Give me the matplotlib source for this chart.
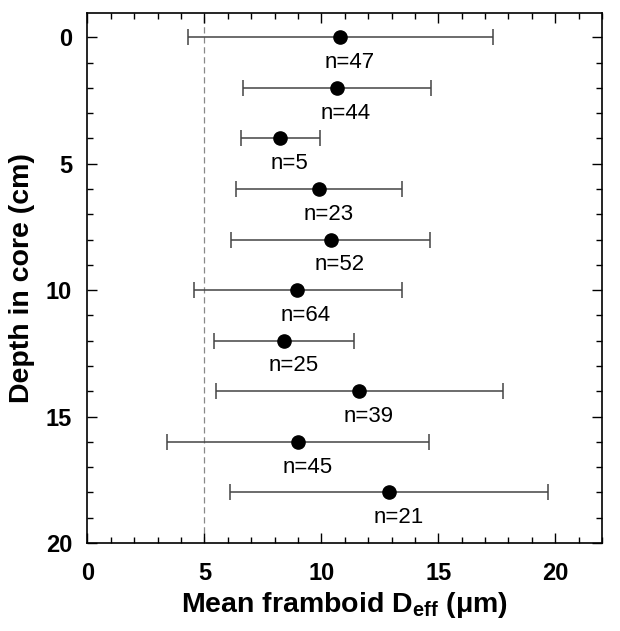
import numpy as np
import matplotlib
matplotlib.use("Agg")
import matplotlib.pyplot as plt
from matplotlib.ticker import MultipleLocator

plt.rcParams['font.family'] = ['Liberation Sans', 'DejaVu Sans']
plt.rcParams['mathtext.fontset'] = 'custom'
plt.rcParams['mathtext.rm'] = 'Liberation Sans'
plt.rcParams['mathtext.bf'] = 'Liberation Sans:bold'

# data
depth = [0, 2, 4, 6, 8, 10, 12, 14, 16, 18]
mean_d = [10.8, 10.65, 8.25, 9.9, 10.4, 8.95, 8.4, 11.6, 9.0, 12.9]
low = [4.3, 6.65, 6.55, 6.35, 6.15, 4.55, 5.4, 5.5, 3.4, 6.1]
high = [17.35, 14.7, 9.95, 13.45, 14.65, 13.45, 11.4, 17.75, 14.6, 19.7]
n_labels = ['n=47', 'n=44', 'n=5', 'n=23', 'n=52', 'n=64', 'n=25', 'n=39', 'n=45', 'n=21']

mean_d = np.array(mean_d)
xerr = [mean_d - np.array(low), np.array(high) - mean_d]

fig = plt.figure(figsize=(6.2, 6.31), dpi=100)
ax = fig.add_axes([0.141, 0.1395, 0.830, 0.8395])

# threshold line at 5 um
ax.axvline(5, color='#888888', lw=0.9, ls=(0, (5, 3)), zorder=1)

ax.errorbar(mean_d, depth, xerr=xerr, fmt='o', color='black', ms=9.5,
            ecolor='#444444', elinewidth=1.1, capsize=6, capthick=1.1, zorder=3)

for x, y, s in zip(mean_d, depth, n_labels):
    ax.text(x + 0.4, y + 1.0, s, ha='center', va='center', fontsize=16)

ax.set_xlim(0, 22)
ax.set_ylim(20, -0.95)
ax.xaxis.set_major_locator(MultipleLocator(5))
ax.xaxis.set_minor_locator(MultipleLocator(1))
ax.yaxis.set_major_locator(MultipleLocator(5))
ax.yaxis.set_minor_locator(MultipleLocator(1))
ax.tick_params(which='both', direction='in', top=True, right=True, width=1)
ax.tick_params(which='major', length=7, labelsize=17)
ax.tick_params(axis='x', which='major', pad=14)
ax.tick_params(axis='y', which='major', pad=11)
ax.tick_params(which='minor', length=4)
for lab in ax.get_xticklabels() + ax.get_yticklabels():
    lab.set_fontweight('bold')
for sp in ax.spines.values():
    sp.set_linewidth(1.2)

ax.set_xlabel(r'Mean framboid D$_{\mathbf{eff}}$ (μm)', fontsize=20.5,
              fontweight='bold', labelpad=3)
ax.set_ylabel('Depth in core (cm)', fontsize=20.5, fontweight='bold', labelpad=8)

fig.savefig('out.png', dpi=100)
